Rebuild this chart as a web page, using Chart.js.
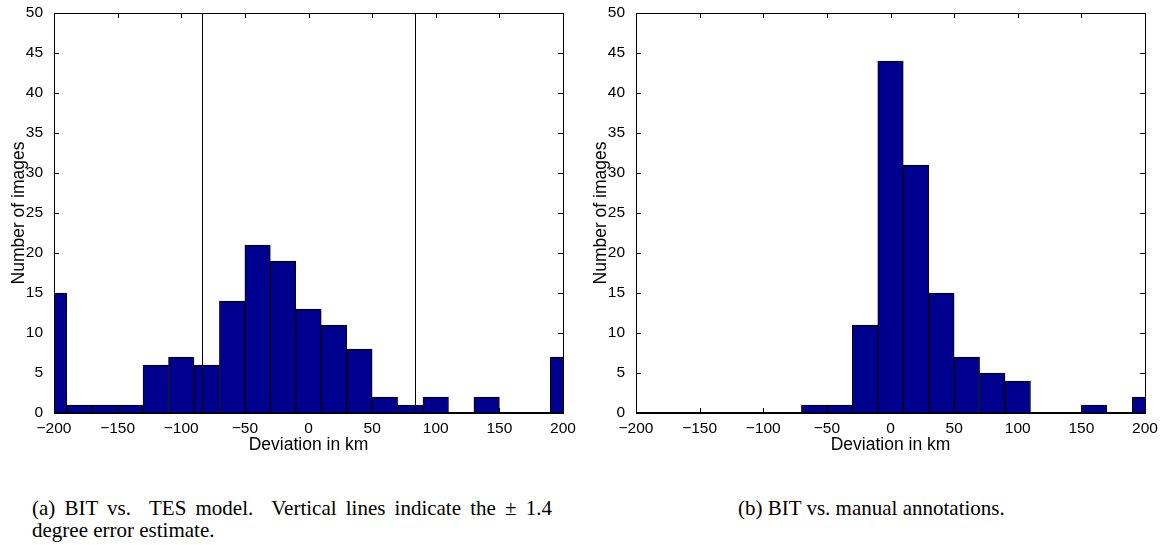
<!DOCTYPE html>
<html>
<head>
<meta charset="utf-8">
<script src="https://cdn.jsdelivr.net/npm/chart.js@4.4.1/dist/chart.umd.min.js"></script>
<style>
  body { margin: 0; background: #fff; }
  #page { position: relative; width: 1164px; height: 545px; overflow: hidden; }
  canvas { position: absolute; top: 0; }
  .cap { position: absolute; font-family: "Liberation Serif", "Times New Roman", serif; font-size: 21px; line-height: 22px; color: #000; white-space: nowrap; }
</style>
</head>
<body>
<div id="page">
  <canvas id="chart_tes" width="582" height="470" style="left:0"></canvas>
  <canvas id="chart_manual" width="582" height="470" style="left:582px"></canvas>
  <div class="cap" style="left:32px; top:497px; width:520px; text-align:justify; text-align-last:justify;">(a) BIT vs.&nbsp; TES model.&nbsp; Vertical lines indicate the ± 1.4</div>
  <div class="cap" style="left:32px; top:519px;">degree error estimate.</div>
  <div class="cap" style="left:738px; top:497px;">(b) BIT vs. manual annotations.</div>
</div>
<script>
// histogram bin centres (km)
var binCenters = [-200, -180, -160, -140, -120, -100, -80, -60, -40, -20, 0,
                  20, 40, 60, 80, 100, 120, 140, 160, 180, 200];
// (a) BIT vs. TES model
var countsTES = [15, 1, 1, 1, 6, 7, 6, 14, 21, 19, 13, 11, 8, 2, 1, 2, 0, 2, 0, 0, 7];
// (b) BIT vs. manual annotations
var countsManual = [0, 0, 0, 0, 0, 0, 0, 1, 1, 11, 44, 31, 15, 7, 5, 4, 0, 0, 1, 0, 2];
// +/- 1.4 degree error estimate, in km
var errorLines = [-84, 84];

var barColor = '#00008f';

var matlabAxes = {
    id: 'matlabAxes',
    beforeDatasetsDraw: (chart) => {
        const ctx = chart.ctx, a = chart.chartArea;
        const xs = chart.scales.x, ys = chart.scales.y;
        ctx.save();
        ctx.strokeStyle = '#000';
        ctx.lineWidth = 1;
        ctx.beginPath();
        xs.ticks.forEach((t) => {
            const px = Math.round(xs.getPixelForValue(t.value)) + 0.5;
            ctx.moveTo(px, a.bottom); ctx.lineTo(px, a.bottom - 5);
            ctx.moveTo(px, a.top); ctx.lineTo(px, a.top + 5);
        });
        ys.ticks.forEach((t) => {
            const py = Math.round(ys.getPixelForValue(t.value)) + 0.5;
            ctx.moveTo(a.left, py); ctx.lineTo(a.left + 5, py);
            ctx.moveTo(a.right, py); ctx.lineTo(a.right - 5, py);
        });
        ctx.stroke();
        ctx.restore();
    },
    afterDatasetsDraw: (chart, args, options) => {
        const ctx = chart.ctx, a = chart.chartArea;
        const xs = chart.scales.x;
        ctx.save();
        ctx.strokeStyle = '#000';
        ctx.lineWidth = 1;
        (options.lines || []).forEach((v) => {
            const px = Math.round(xs.getPixelForValue(v)) + 0.5;
            ctx.beginPath();
            ctx.moveTo(px, a.top); ctx.lineTo(px, a.bottom);
            ctx.stroke();
        });
        ctx.strokeRect(Math.round(a.left) + 0.5, Math.round(a.top) + 0.5,
                       Math.round(a.right - a.left), Math.round(a.bottom - a.top));
        ctx.lineWidth = 2;
        ctx.beginPath();
        ctx.moveTo(a.left, Math.round(a.bottom));
        ctx.lineTo(a.right, Math.round(a.bottom));
        ctx.stroke();
        ctx.restore();
    }
};

function minusSign(v) {
    return String(v).replace('-', '\u2212');
}

function makeHist(id, counts, lines) {
    return new Chart(document.getElementById(id), {
        type: 'bar',
        data: {
            datasets: [{
                data: binCenters.map((x, i) => ({ x: x, y: counts[i] })),
                backgroundColor: barColor,
                borderColor: '#000',
                borderWidth: 1,
                borderSkipped: false,
                barPercentage: 1,
                categoryPercentage: 1,
                clip: 0
            }]
        },
        options: {
            animation: false,
            responsive: false,
            devicePixelRatio: 1,
            layout: { padding: { left: 0, top: 13, right: 19, bottom: 0 } },
            plugins: {
                legend: { display: false },
                tooltip: { enabled: false },
                matlabAxes: { lines: lines }
            },
            scales: {
                x: {
                    type: 'linear',
                    offset: false,
                    min: -200,
                    max: 200,
                    grid: { display: false },
                    border: { display: false },
                    ticks: {
                        stepSize: 50,
                        padding: -2,
                        maxRotation: 0,
                        autoSkip: false,
                        color: '#000',
                        font: { family: 'Liberation Sans, Arial, sans-serif', size: 15.5 },
                        callback: minusSign
                    },
                    title: {
                        display: true,
                        text: 'Deviation in km',
                        color: '#000',
                        padding: { top: 0, bottom: 14 },
                        font: { family: 'Liberation Sans, Arial, sans-serif', size: 17.5 }
                    },
                    afterFit: (s) => { s.height = 57; }
                },
                y: {
                    min: 0,
                    max: 50,
                    grid: { display: false },
                    border: { display: false },
                    ticks: {
                        stepSize: 5,
                        padding: 3,
                        color: '#000',
                        font: { family: 'Liberation Sans, Arial, sans-serif', size: 15.5 }
                    },
                    title: {
                        display: true,
                        text: 'Number of images',
                        color: '#000',
                        padding: { top: 9, bottom: 0 },
                        font: { family: 'Liberation Sans, Arial, sans-serif', size: 17.5 }
                    },
                    afterFit: (s) => { s.width = 54; }
                }
            }
        },
        plugins: [matlabAxes]
    });
}

var chart_tes = makeHist('chart_tes', countsTES, errorLines);
var chart_manual = makeHist('chart_manual', countsManual, []);
</script>
</body>
</html>
